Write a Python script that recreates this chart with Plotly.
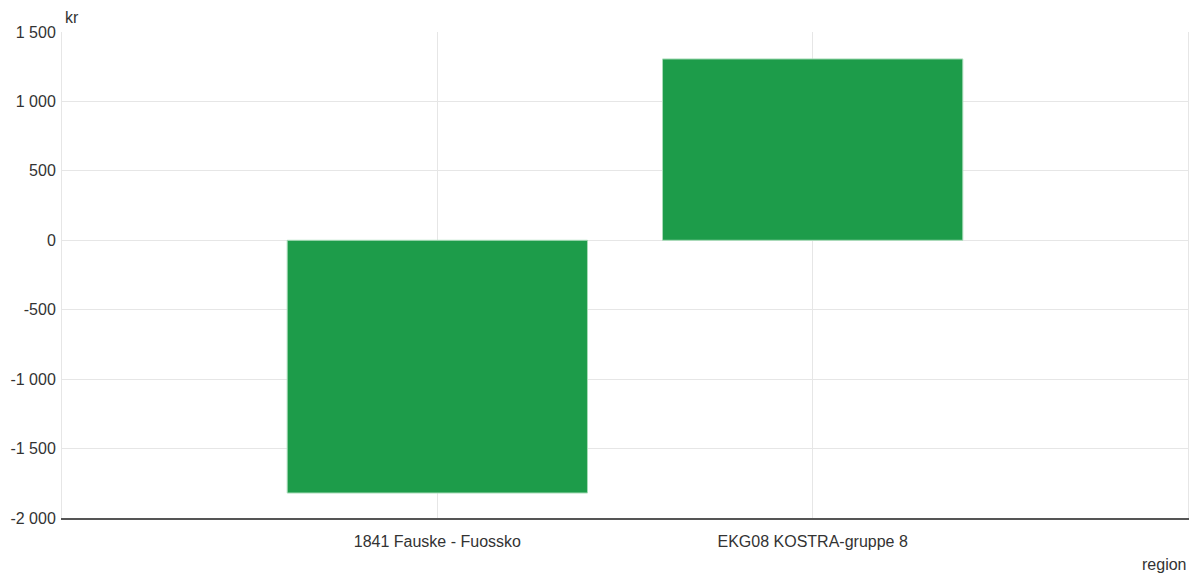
import plotly.graph_objects as go

categories = ["1841 Fauske - Fuossko", "EKG08 KOSTRA-gruppe 8"]
values = [-1820, 1306]
y_tick_vals = [-2000, -1500, -1000, -500, 0, 500, 1000, 1500]
y_tick_text = ["-2 000", "-1 500", "-1 000", "-500", "0", "500", "1 000", "1 500"]

FONT = "Liberation Sans, Arial, sans-serif"
TXT = "#333333"
GRID = "#e6e6e6"

fig = go.Figure()
fig.add_trace(go.Bar(
    x=categories, y=values, width=0.8,
    marker=dict(color="#1d9c4a", line=dict(color="#a8dcb8", width=1)),
    hoverinfo="x+y",
))

fig.update_layout(
    width=1195, height=577,
    margin=dict(l=62, r=7, t=32, b=59),
    paper_bgcolor="white", plot_bgcolor="white",
    font=dict(family=FONT, size=16, color=TXT),
    showlegend=False,
    xaxis=dict(
        type="category", range=[-1, 2],
        showgrid=True, gridcolor=GRID, gridwidth=1,
        showline=True, linecolor="#555555", linewidth=2,
        ticks="", ticklabelstandoff=8,
        tickfont=dict(family=FONT, size=16, color=TXT),
        fixedrange=True,
    ),
    yaxis=dict(
        range=[-2000, 1500],
        tickvals=y_tick_vals, ticktext=y_tick_text,
        showgrid=True, gridcolor=GRID, gridwidth=1,
        zeroline=True, zerolinecolor=GRID, zerolinewidth=1,
        showline=True, linecolor=GRID, linewidth=1, mirror=True,
        ticks="", ticklabelstandoff=2,
        tickfont=dict(family=FONT, size=16, color=TXT),
        fixedrange=True,
    ),
    annotations=[
        dict(text="kr", xref="paper", yref="paper", x=0, y=1, xanchor="left", yanchor="bottom",
             xshift=1, yshift=4, showarrow=False, font=dict(family=FONT, size=16, color=TXT)),
        dict(text="region", xref="paper", yref="paper", x=1, y=0, xanchor="right", yanchor="top",
             yshift=-36, showarrow=False, font=dict(family=FONT, size=16, color=TXT)),
    ],
)

fig.write_html("out.html", config={"displayModeBar": False},
               post_script="document.body.style.margin='0';")
